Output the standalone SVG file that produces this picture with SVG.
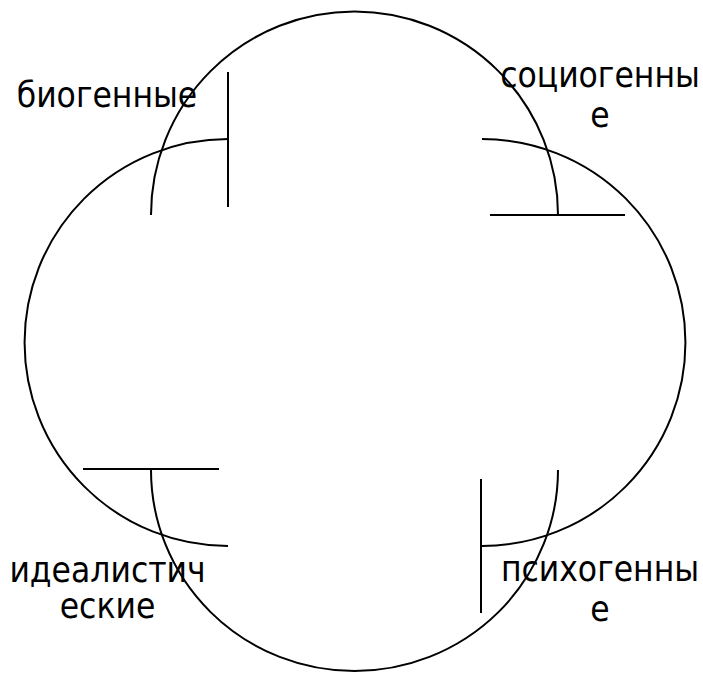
<svg xmlns="http://www.w3.org/2000/svg" width="703" height="674" viewBox="0 0 703 674">
<style>
.a{fill:none;stroke:#000;stroke-width:2}
.t{font-family:"DejaVu Sans Condensed","DejaVu Sans",sans-serif;font-stretch:condensed;font-size:35px;fill:#000;text-anchor:middle}
</style>
<rect width="703" height="674" fill="#fff"/>
<g id="arcs">
<path id="arc-top" class="a" d="M151,215 A203.5,203.5 0 0 1 558,215"/>
<path id="arc-bottom" class="a" d="M151,470 A203.5,201 0 0 0 558,470"/>
<path id="arc-left" class="a" d="M228,139 A203.5,203.5 0 0 0 228,546"/>
<path id="arc-right" class="a" d="M482,139 A203.5,203.5 0 0 1 482,546"/>
</g>
<g id="connectors">
<line class="a" x1="228" y1="72" x2="228" y2="207"/>
<line class="a" x1="490" y1="215" x2="625" y2="215"/>
<line class="a" x1="83" y1="469" x2="219" y2="469"/>
<line class="a" x1="481" y1="479" x2="481" y2="613"/>
</g>
<g id="bio"><text class="t" x="107" y="107">биогенные</text></g>
<g id="socio"><text class="t" x="600" y="87">социогенны</text><text class="t" x="600" y="127">е</text></g>
<g id="ideal"><text class="t" x="107.5" y="582">идеалистич</text><text class="t" x="107.5" y="618">еские</text></g>
<g id="psycho"><text class="t" x="600" y="581">психогенны</text><text class="t" x="600" y="621">е</text></g>
</svg>
